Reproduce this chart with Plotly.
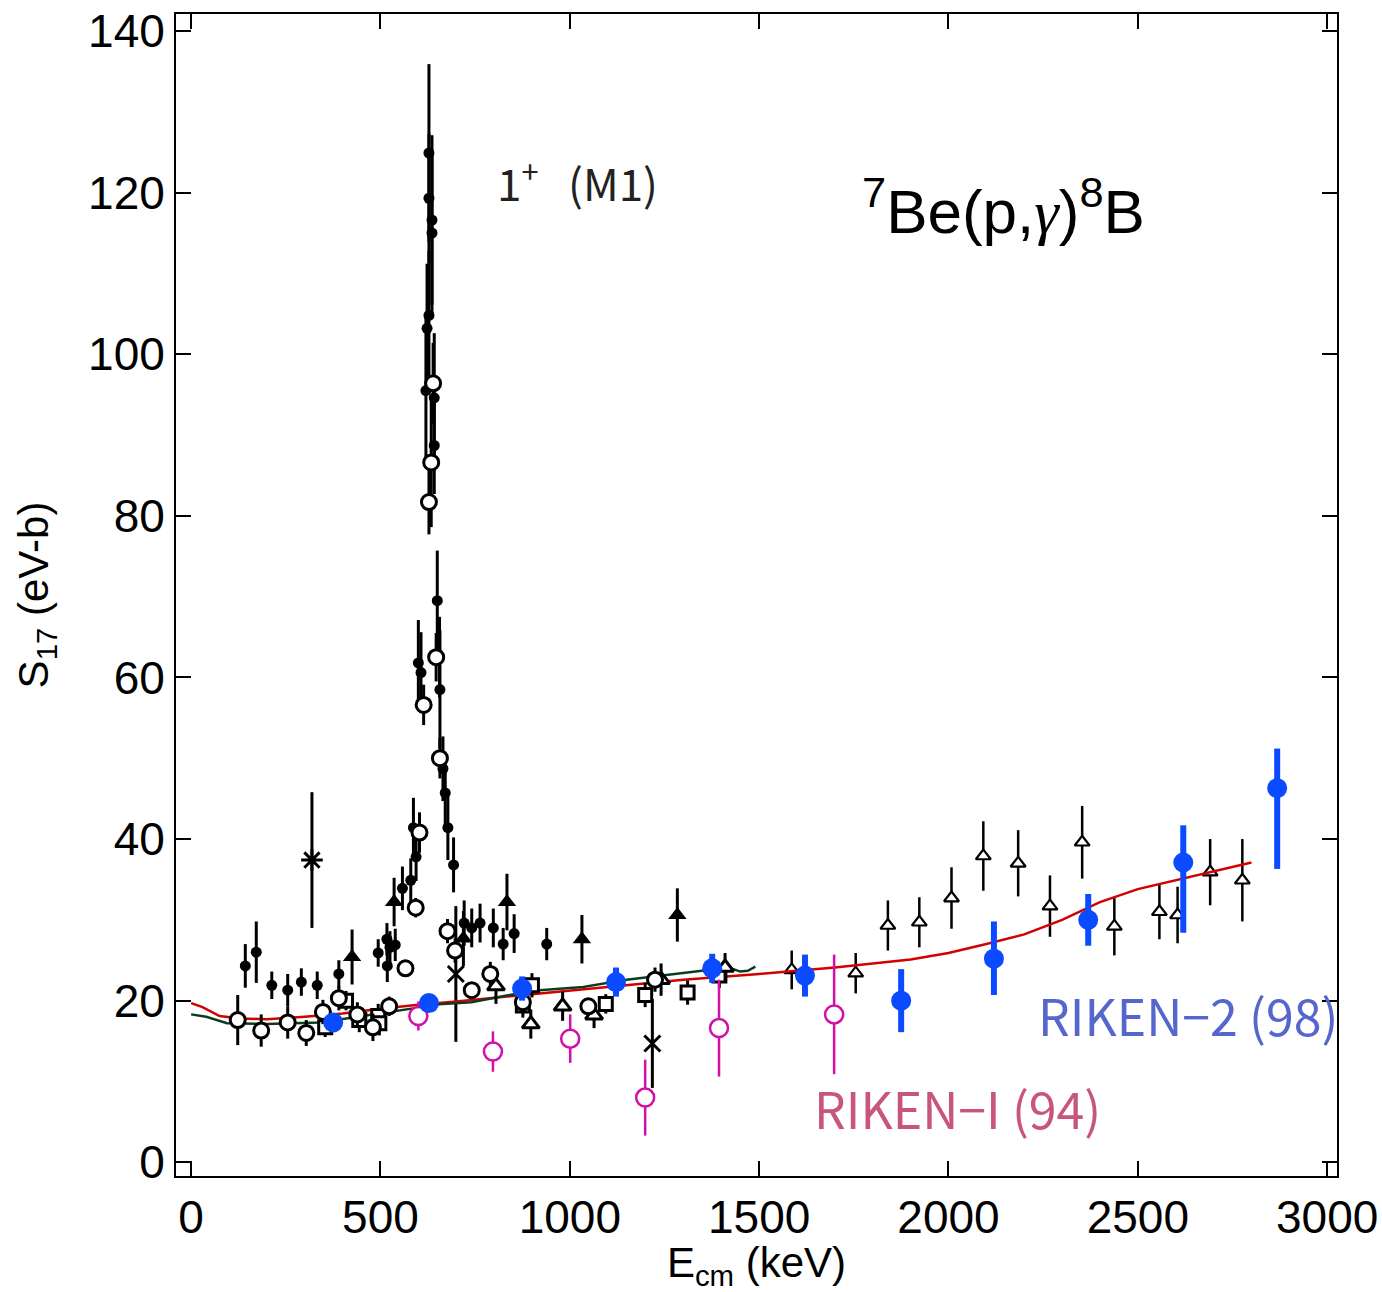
import plotly.graph_objects as go

# ---------------- data ----------------
# small filled black circles
fc_E = [143, 172, 213, 255, 291, 333, 390, 494, 517, 518, 525, 539, 558, 580, 587, 594,
        600, 607, 620, 623, 628, 628, 628, 636, 636, 642, 642, 650, 656, 657, 665, 671,
        678, 693, 721, 741, 763, 798, 824, 853, 939]
fc_S = [24.3, 26.0, 21.9, 21.3, 22.3, 21.9, 23.3, 25.9, 27.6, 24.3, 26.6, 26.9, 33.9, 34.9, 41.4, 37.8,
        61.8, 60.6, 95.5, 103.2, 104.8, 119.3, 124.9, 116.6, 115.0, 94.6, 88.7, 69.5, 62.5, 58.5, 48.7, 45.7,
        41.4, 36.8, 29.6, 29.0, 29.6, 29.0, 27.0, 28.3, 27.0]
fc_err = [2.7, 3.8, 1.7, 2.0, 1.7, 1.7, 1.7, 1.7, 2.0, 2.0, 2.0, 2.0, 2.7, 2.7, 3.7, 3.0,
          5.3, 5.0, 9.0, 8.0, 8.0, 8.0, 11.0, 10.5, 10.0, 8.0, 6.0, 6.2, 5.0, 7.3, 4.0, 4.0,
          4.0, 3.4, 2.8, 2.4, 2.4, 2.4, 2.0, 2.4, 2.0]

# open black circles
oc_E = [123, 185, 255, 304, 348, 390, 439, 480, 523, 566, 593, 603, 614, 628, 634, 639,
        647, 657, 677, 697, 741, 790, 876, 1049, 1225]
oc_S = [17.6, 16.3, 17.3, 16.0, 18.6, 20.3, 18.3, 16.7, 19.3, 24.0, 31.5, 40.8, 56.6, 81.7, 86.6, 96.4,
        62.5, 50.0, 28.6, 26.2, 21.3, 23.3, 19.8, 19.3, 22.6]
oc_err = [3.1, 2.0, 2.0, 1.6, 1.5, 1.5, 1.5, 1.7, 1.2, 1.0, 1.2, 2.5, 2.5, 4.0, 8.0, 5.0,
          3.0, 2.5, 1.5, 1.5, 1.0, 1.5, 1.0, 1.0, 1.5]

# filled triangles
ft_E = [425, 536, 719, 834, 1032, 1284]
ft_S = [25.4, 32.2, 27.7, 32.2, 27.6, 30.6]
ft_err = [3.4, 3.0, 3.4, 3.5, 3.0, 3.3]

# open squares
sq_E = [354, 409, 444, 494, 497, 876, 900, 1095, 1199, 1311, 1395]
sq_S = [16.7, 20.0, 17.6, 18.1, 17.2, 19.4, 21.9, 19.6, 20.7, 21.0, 23.1]
sq_err = [1.2, 1.2, 1.5, 1.5, 1.5, 1.5, 1.5, 1.2, 1.5, 1.5, 1.5]

# open triangles (mid energies)
ot_E = [805, 897, 981, 1064, 1241, 1410]
ot_S = [21.8, 17.1, 19.3, 18.2, 22.6, 24.1]
ot_err = [2.2, 1.8, 1.8, 1.6, 2.0, 1.8]

# small open triangles (high energies)
st_E = [1586, 1755, 1840, 1923, 2008, 2092, 2184, 2268, 2353, 2438, 2557, 2605, 2691, 2776]
st_S = [23.8, 23.4, 29.3, 29.7, 32.7, 37.9, 37.0, 31.7, 39.6, 29.2, 31.0, 30.6, 35.9, 34.9]
st_err = [2.4, 2.5, 3.1, 3.1, 3.8, 4.3, 4.1, 3.8, 4.5, 3.6, 3.4, 3.5, 4.1, 5.1]

# crosses and asterisk
x_E = [699, 1218]
x_S = [23.3, 14.7]
x_err = [8.4, 5.5]
ast_E = [319]
ast_S = [37.4]
ast_err = [8.4]

# RIKEN-I (94)
r1_E = [600, 797, 1001, 1199, 1394, 1698]
r1_S = [18.1, 13.7, 15.3, 8.0, 16.6, 18.3]
r1_err = [1.8, 2.5, 3.0, 4.7, 6.0, 7.4]

# RIKEN-2 (98)
r2_E = [375, 628, 874, 1122, 1376, 1621, 1875, 2120, 2369, 2620, 2868]
r2_S = [17.3, 19.7, 21.5, 22.3, 24.0, 23.1, 20.0, 25.2, 30.0, 37.1, 46.3]
r2_up = [1.0, 1.0, 1.5, 1.8, 1.8, 2.6, 3.9, 4.6, 3.2, 4.6, 4.9]
r2_dn = [1.0, 1.0, 1.5, 1.8, 1.8, 2.6, 3.9, 4.5, 3.2, 8.7, 10.0]

# theory curves
red_E = [0, 30, 75, 130, 200, 300, 400, 500, 600, 700, 900, 1100, 1300, 1500, 1700,
         1900, 2000, 2100, 2200, 2300, 2400, 2500, 2600, 2700, 2800]
red_S = [19.7, 19.2, 18.1, 17.8, 17.7, 18.0, 18.4, 19.0, 19.5, 19.9, 20.8, 21.7, 22.6, 23.3, 24.1,
         25.1, 25.9, 27.0, 28.2, 30.0, 32.2, 33.8, 34.9, 36.0, 37.1]
grn_E = [0, 40, 95, 200, 340, 470, 560, 665, 740, 830, 920, 1035, 1150, 1270, 1360, 1420, 1450, 1470, 1490]
grn_S = [18.3, 18.0, 17.2, 17.1, 17.3, 18.2, 18.8, 19.6, 19.8, 20.6, 21.3, 21.7, 22.6, 23.3, 23.8, 24.1, 23.6, 23.7, 24.2]

x_ticks = [0, 500, 1000, 1500, 2000, 2500, 3000]
y_ticks = [0, 20, 40, 60, 80, 100, 120, 140]

# ---------------- figure ----------------
fig = go.Figure()


def eb(arr, color="black", th=3):
    return dict(type="data", array=arr, visible=True, color=color, thickness=th, width=0)


fig.add_trace(go.Scatter(x=st_E, y=st_S, mode="markers", error_y=eb(st_err, th=2.5),
                         marker=dict(symbol="triangle-up", size=13, color="white",
                                     line=dict(color="black", width=2.2))))
fig.add_trace(go.Scatter(x=x_E, y=x_S, mode="markers", error_y=eb(x_err),
                         marker=dict(symbol="x-thin-open", size=16, color="black",
                                     line=dict(color="black", width=3))))
fig.add_trace(go.Scatter(x=ast_E, y=ast_S, mode="markers", error_y=eb(ast_err),
                         marker=dict(symbol="asterisk-open", size=18, color="black",
                                     line=dict(color="black", width=3))))
fig.add_trace(go.Scatter(x=fc_E, y=fc_S, mode="markers", error_y=eb(fc_err),
                         marker=dict(symbol="circle", size=11, color="black")))
fig.add_trace(go.Scatter(x=ft_E, y=ft_S, mode="markers", error_y=eb(ft_err),
                         marker=dict(symbol="triangle-up", size=16, color="black")))
fig.add_trace(go.Scatter(x=red_E, y=red_S, mode="lines", line=dict(color="#d40000", width=2.5)))
fig.add_trace(go.Scatter(x=grn_E, y=grn_S, mode="lines", line=dict(color="#0d3b1f", width=2.5)))
fig.add_trace(go.Scatter(x=sq_E, y=sq_S, mode="markers", error_y=eb(sq_err),
                         marker=dict(symbol="square", size=13, color="white",
                                     line=dict(color="black", width=3))))
fig.add_trace(go.Scatter(x=ot_E, y=ot_S, mode="markers", error_y=eb(ot_err),
                         marker=dict(symbol="triangle-up", size=15, color="white",
                                     line=dict(color="black", width=3))))
fig.add_trace(go.Scatter(x=oc_E, y=oc_S, mode="markers", error_y=eb(oc_err),
                         marker=dict(symbol="circle", size=15, color="white",
                                     line=dict(color="black", width=3))))
fig.add_trace(go.Scatter(x=r1_E, y=r1_S, mode="markers", error_y=eb(r1_err, "#d20fa8", 2.5),
                         marker=dict(symbol="circle", size=18, color="white",
                                     line=dict(color="#d20fa8", width=2.5))))
fig.add_trace(go.Scatter(x=r2_E, y=r2_S, mode="markers",
                         error_y=dict(type="data", symmetric=False, array=r2_up, arrayminus=r2_dn,
                                      color="#0a4bff", thickness=6, width=0),
                         marker=dict(symbol="circle", size=20, color="#0a4bff")))

axis_common = dict(showline=True, mirror="ticks", linecolor="black", linewidth=2,
                   ticks="inside", ticklen=15, tickwidth=2, tickcolor="black",
                   showgrid=False, zeroline=False, automargin=False,
                   ticklabeloverflow="allow",
                   tickfont=dict(family="Liberation Sans, Arial", size=46, color="black"))

fig.update_layout(
    width=1382, height=1292,
    margin=dict(l=176, r=45, t=14, b=116),
    plot_bgcolor="white", paper_bgcolor="white",
    showlegend=False,
    xaxis=dict(range=[-40, 3026], tickvals=x_ticks, ticktext=[str(v) for v in x_ticks],
               title=dict(text="E<sub>cm</sub> (keV)", standoff=6,
                          font=dict(family="Liberation Sans, Arial", size=42, color="black")),
               **axis_common),
    yaxis=dict(range=[-1.7, 142.1], tickvals=y_ticks, ticktext=[str(v) for v in y_ticks],
               title=dict(text="S<sub>17</sub> (eV-b)", standoff=26,
                          font=dict(family="Liberation Sans, Arial", size=42, color="black")),
               **axis_common),
)

fig.add_annotation(x=1019, y=121.5, xref="x", yref="y", showarrow=False,
                   text="1<sup>+</sup>   (M1)",
                   font=dict(family="Noto Sans CJK JP", size=44, color="#222222"))
fig.add_annotation(x=2144, y=118.2, xref="x", yref="y", showarrow=False,
                   text="<sup>7</sup>Be(p,<i><span style='font-family:Liberation Serif'>γ</span></i>)<sup>8</sup>B",
                   font=dict(family="Liberation Sans, Arial", size=62, color="black"))
fig.add_annotation(x=2633, y=18.3, xref="x", yref="y", showarrow=False,
                   text="RIKEN−2 (98)",
                   font=dict(family="Noto Sans CJK JP", size=50, color="#5566cc"))
fig.add_annotation(x=2025, y=6.8, xref="x", yref="y", showarrow=False,
                   text="RIKEN−I (94)",
                   font=dict(family="Noto Sans CJK JP", size=50, color="#c8567a"))

# remove the default 8 px page margin so the figure fills the window exactly
fig.write_html("out.html",
               config={"displayModeBar": False},
               post_script="document.body.style.margin='0';document.body.style.overflow='hidden';")
